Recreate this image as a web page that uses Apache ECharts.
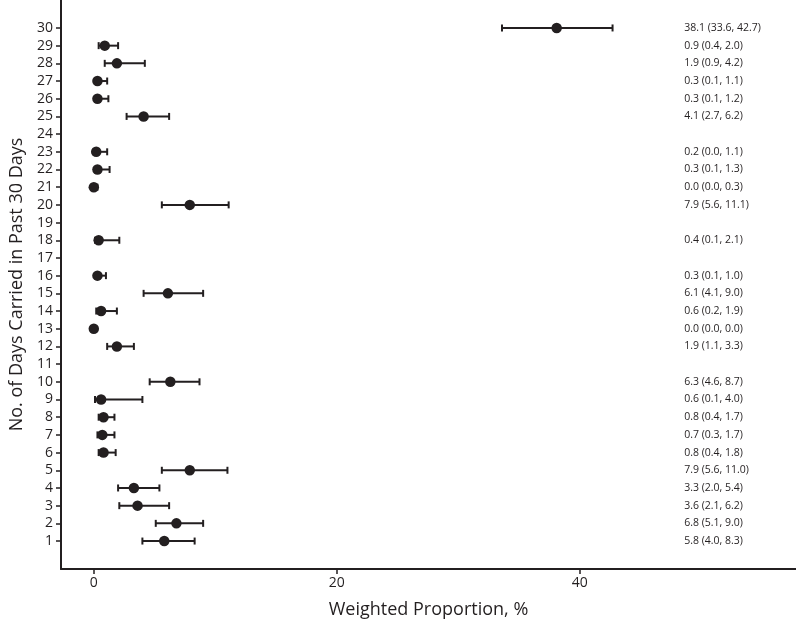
<!DOCTYPE html>
<html>
<head>
<meta charset="utf-8">
<script src="https://cdn.jsdelivr.net/npm/echarts@6/dist/echarts.min.js"></script>
<style>
html,body{margin:0;padding:0;background:#fff;}
#c{width:796px;height:621px;}
</style>
</head>
<body>
<div id="c"></div>
<script>
// Data
const days      = [1,2,3,4,5,6,7,8,9,10,11,12,13,14,15,16,17,18,19,20,21,22,23,24,25,26,27,28,29,30];
const estimates = [5.8,6.8,3.6,3.3,7.9,0.8,0.7,0.8,0.6,6.3,null,1.9,0.0,0.6,6.1,0.3,null,0.4,null,7.9,0.0,0.3,0.2,null,4.1,0.3,0.3,1.9,0.9,38.1];
const lowers    = [4.0,5.1,2.1,2.0,5.6,0.4,0.3,0.4,0.1,4.6,null,1.1,0.0,0.2,4.1,0.1,null,0.1,null,5.6,0.0,0.1,0.0,null,2.7,0.1,0.1,0.9,0.4,33.6];
const uppers    = [8.3,9.0,6.2,5.4,11.0,1.8,1.7,1.7,4.0,8.7,null,3.3,0.0,1.9,9.0,1.0,null,2.1,null,11.1,0.3,1.3,1.1,null,6.2,1.2,1.1,4.2,2.0,42.7];
const xTicks    = [0,20,40];
const yTicks    = days;

const FONT = '"Open Sans", "Noto Sans", sans-serif';
const INK = '#231f20';

const pointData = [], barData = [], labelData = [];
days.forEach((d, i) => {
  if (estimates[i] === null) return;
  pointData.push([estimates[i], d]);
  barData.push([d, lowers[i], uppers[i]]);
  labelData.push([d, estimates[i].toFixed(1) + ' (' + lowers[i].toFixed(1) + ', ' + uppers[i].toFixed(1) + ')']);
});

const chart = echarts.init(document.getElementById('c'), null, {renderer: 'canvas'});
const LABEL_X = 48.6;

chart.setOption({
  animation: false,
  backgroundColor: '#ffffff',
  grid: {left: 61, right: 0, top: 0, bottom: 52, containLabel: false, outerBoundsMode: 'none'},
  xAxis: {
    type: 'value',
    min: -2.7, max: 57.8,
    name: 'Weighted Proportion, %',
    nameLocation: 'middle',
    nameGap: 32,
    nameTextStyle: {fontFamily: FONT, fontSize: 18, color: INK},
    axisLine: {show: true, onZero: false, lineStyle: {color: INK, width: 2}},
    axisTick: {show: true, length: 5, customValues: xTicks, lineStyle: {color: INK, width: 1.5}},
    axisLabel: {customValues: xTicks, fontFamily: FONT, fontSize: 14, color: INK, margin: 7},
    splitLine: {show: false}
  },
  yAxis: {
    type: 'value',
    min: -0.58, max: 31.58,
    name: 'No. of Days Carried in Past 30 Days',
    nameLocation: 'middle',
    nameGap: 31,
    nameTextStyle: {fontFamily: FONT, fontSize: 18, color: INK},
    axisLine: {show: true, onZero: false, lineStyle: {color: INK, width: 2}},
    axisTick: {show: true, length: 5, customValues: yTicks, lineStyle: {color: INK, width: 1.5}},
    axisLabel: {customValues: yTicks, fontFamily: FONT, fontSize: 14, color: INK, margin: 8},
    splitLine: {show: false}
  },
  series: [
    {
      type: 'custom',
      data: barData,
      encode: {x: [1, 2], y: 0},
      renderItem: function (params, api) {
        const d = api.value(0);
        const p1 = api.coord([api.value(1), d]);
        const p2 = api.coord([api.value(2), d]);
        const h = 3.5;
        const style = {stroke: INK, lineWidth: 2};
        return {
          type: 'group',
          children: [
            {type: 'line', shape: {x1: p1[0], y1: p1[1], x2: p2[0], y2: p2[1]}, style: style},
            {type: 'line', shape: {x1: p1[0], y1: p1[1] - h, x2: p1[0], y2: p1[1] + h}, style: style},
            {type: 'line', shape: {x1: p2[0], y1: p2[1] - h, x2: p2[0], y2: p2[1] + h}, style: style}
          ]
        };
      },
      z: 2
    },
    {
      type: 'scatter',
      data: pointData,
      symbol: 'circle',
      symbolSize: 10.5,
      itemStyle: {color: INK, opacity: 1},
      z: 3
    },
    {
      type: 'custom',
      data: labelData,
      renderItem: function (params, api) {
        const p = api.coord([LABEL_X, api.value(0)]);
        return {
          type: 'text',
          x: p[0], y: p[1],
          style: {
            text: labelData[params.dataIndex][1],
            fill: INK,
            font: '10.5px ' + FONT,
            textAlign: 'left',
            textVerticalAlign: 'middle'
          }
        };
      },
      z: 4
    }
  ]
});
</script>
</body>
</html>
